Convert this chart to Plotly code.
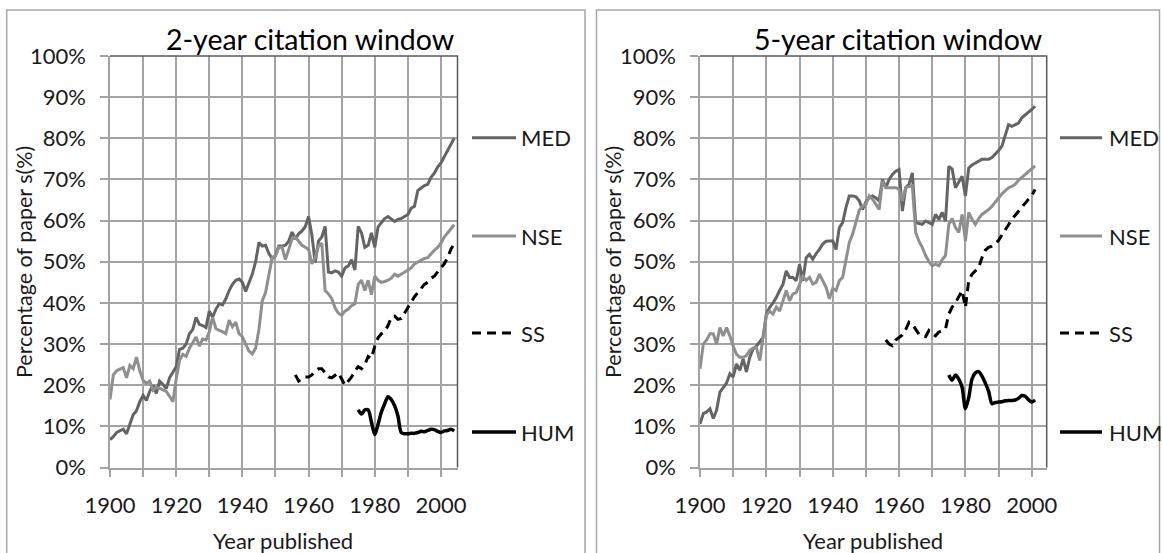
import plotly.graph_objects as go

# ---------------- data ----------------
years_2yr = list(range(1900, 2005))
med_2yr = [6.8, 7.5, 8.5, 9.0, 9.3, 8.2, 10.5, 12.8, 13.8, 16.0,
           17.5, 16.3, 18.5, 20.0, 18.0, 21.0, 20.2, 19.2, 21.8, 23.0,
           24.5, 28.7, 29.0, 30.0, 32.5, 33.5, 36.5, 34.8, 34.5, 34.0,
           38.0, 36.5, 38.5, 39.8, 39.5, 41.0, 43.0, 44.5, 45.5, 45.8,
           45.0, 42.8, 45.0, 47.0, 50.0, 54.7, 53.8, 54.0, 52.0, 50.8,
           51.5, 53.8, 53.8, 54.0, 55.0, 57.2, 55.5, 56.8, 57.5, 58.5,
           61.0, 56.5, 49.8, 55.0, 56.0, 58.6, 47.5, 47.3, 47.8, 47.5,
           46.5, 48.5, 49.0, 50.5, 48.0, 58.6, 57.0, 53.5, 54.0, 57.0,
           53.5, 58.5, 59.5, 60.5, 61.0, 60.5, 59.8, 60.3, 60.5, 61.0,
           61.5, 63.0, 63.5, 67.3, 68.0, 68.5, 68.8, 70.5, 71.5, 73.0,
           74.0, 75.5, 77.0, 78.5, 80.0]
nse_2yr = [16.5, 22.5, 23.5, 24.0, 24.3, 21.8, 24.8, 24.0, 26.8, 23.5,
           21.2, 20.4, 21.0, 18.8, 19.5, 19.2, 18.8, 18.5, 17.3, 16.0,
           21.5, 26.0, 27.5, 27.0, 29.0, 30.5, 31.7, 29.5, 31.2, 31.0,
           33.0, 36.5, 33.8, 33.3, 33.0, 32.5, 35.8, 34.2, 35.3, 32.5,
           31.8, 30.0, 28.3, 27.6, 29.0, 33.5, 40.5, 42.5, 47.0, 51.0,
           51.5, 53.5, 53.5, 50.5, 53.0, 55.5, 56.0, 55.0, 54.0, 53.5,
           53.0, 49.5, 51.0, 53.8, 54.5, 43.0, 42.2, 41.0, 38.8, 37.5,
           37.0, 38.0, 38.5, 39.3, 39.8, 44.5, 45.5, 43.0, 45.5, 42.0,
           46.5, 45.5, 45.0, 45.2, 45.5, 46.0, 47.0, 46.5, 47.0, 47.5,
           48.0, 48.5, 49.5, 50.0, 50.5, 50.8, 51.0, 52.0, 52.8, 53.5,
           54.5, 56.0, 57.0, 58.0, 59.0]
ss_years_2yr = list(range(1956, 2005))
ss_2yr = [22.5, 21.0, 21.5, 22.0, 22.0, 22.5, 23.5, 24.0, 24.0, 23.0,
          22.0, 21.8, 22.5, 23.0, 21.5, 20.0, 21.0, 22.0, 23.5, 24.5,
          24.0, 25.0, 27.0, 26.5, 29.5, 31.5, 32.5, 33.0, 34.5, 36.5,
          36.8, 36.0, 36.2, 37.5, 39.0, 40.0, 41.5, 42.5, 43.5, 44.5,
          45.0, 46.0, 46.5, 47.5, 48.5, 49.5, 51.0, 53.0, 54.5]
hum_years_2yr = list(range(1975, 2005))
hum_2yr = [14.0, 13.0, 14.0, 14.0, 11.0, 8.0, 10.5, 13.5, 15.5, 17.2,
           16.5, 15.0, 12.5, 8.5, 8.2, 8.2, 8.3, 8.3, 8.5, 8.8,
           8.7, 9.0, 9.3, 9.2, 8.8, 8.5, 8.9, 9.0, 9.3, 8.9]

years_5yr = list(range(1900, 2002))
med_5yr = [10.6, 13.1, 13.5, 14.3, 11.9, 13.9, 18.3, 19.5, 20.5, 22.8,
           22.0, 25.2, 23.6, 26.4, 23.2, 26.8, 28.8, 29.5, 30.5, 31.6,
           37.3, 38.9, 40.0, 41.3, 43.0, 44.5, 47.8, 46.2, 46.2, 45.4,
           49.4, 45.4, 51.0, 51.8, 50.6, 52.0, 53.0, 54.3, 55.0, 55.1,
           55.1, 53.0, 58.3, 59.5, 63.2, 66.0, 66.0, 65.8, 64.8, 62.7,
           64.5, 65.6, 66.0, 65.5, 64.8, 70.0, 68.0, 70.0, 71.2, 72.0,
           72.4, 62.3, 68.0, 68.8, 71.6, 59.5, 59.3, 59.1, 59.9, 59.5,
           59.1, 61.5, 60.3, 62.0, 59.9, 73.2, 72.5, 68.0, 69.6, 70.8,
           66.0, 72.8, 73.5, 74.0, 74.5, 74.9, 74.9, 74.9, 75.3, 76.1,
           77.0, 78.1, 80.5, 83.3, 82.9, 83.3, 83.7, 85.0, 85.6, 86.2,
           87.0, 87.8]
nse_5yr = [24.0, 30.0, 31.0, 32.5, 32.5, 30.0, 34.0, 32.0, 34.0, 32.0,
           29.5, 27.5, 26.8, 26.8, 27.2, 28.5, 29.0, 29.2, 26.0, 31.5,
           37.0, 38.0, 37.3, 39.0, 38.0, 40.5, 43.0, 40.5, 42.2, 42.5,
           44.5, 46.5, 45.5, 46.2, 44.6, 45.0, 47.0, 45.4, 43.8, 41.0,
           43.5, 43.0, 45.4, 46.2, 50.2, 54.7, 56.7, 59.9, 62.5, 63.5,
           64.0, 66.0, 65.2, 64.0, 62.7, 69.6, 68.0, 68.0, 68.0, 68.0,
           67.6, 64.8, 68.0, 68.2, 68.5, 57.1, 55.0, 53.5, 51.5, 50.0,
           49.0, 49.4, 49.0, 50.5, 51.5, 59.1, 60.5, 58.3, 57.1, 61.5,
           55.0, 62.0, 60.3, 59.1, 60.5, 61.5, 62.0, 62.7, 63.5, 64.4,
           65.5, 66.5, 67.2, 68.0, 68.3, 68.8, 69.8, 70.5, 71.2, 72.0,
           72.5, 73.3]
ss_years_5yr = list(range(1956, 2002))
ss_5yr = [31.0, 30.0, 29.6, 31.0, 31.6, 32.2, 33.5, 35.3, 34.8, 33.5,
          32.4, 32.0, 31.8, 33.3, 32.5, 32.0, 32.9, 33.2, 33.7, 37.3,
          39.0, 40.0, 41.5, 43.0, 38.9, 45.4, 47.0, 47.8, 48.6, 51.0,
          52.8, 53.5, 53.8, 54.3, 55.2, 56.5, 57.9, 59.0, 60.3, 61.3,
          62.3, 63.3, 64.4, 65.2, 66.0, 67.6]
hum_years_5yr = list(range(1975, 2002))
hum_5yr = [22.5, 21.2, 22.5, 21.5, 19.5, 14.3, 17.0, 21.5, 23.0, 23.3,
           22.2, 20.5, 18.5, 15.5, 15.8, 15.9, 16.0, 16.2, 16.3, 16.3,
           16.4, 16.8, 17.5, 17.3, 16.5, 15.9, 16.4]

series_names = ["MED", "NSE", "SS", "HUM"]
panel_titles = ["2-year citation window", "5-year citation window"]
y_title = "Percentage of paper s(%)"
x_title = "Year published"

# ---------------- styling ----------------
W, H = 1162, 553
FONT = "Lato"
colors = {"MED": "#646464", "NSE": "#8f8f8f", "SS": "#000000", "HUM": "#000000"}
dashes = {"MED": "solid", "NSE": "solid", "SS": "9px,6px", "HUM": "solid"}
widths = {"MED": 3, "NSE": 3, "SS": 3, "HUM": 3.5}
GRID = "#a3a3a3"

def px(x):
    return x / W

def py(y):
    return 1 - y / H

fig = go.Figure()

panels = [
    dict(xa="x", ya="y", data={"MED": (years_2yr, med_2yr), "NSE": (years_2yr, nse_2yr),
                              "SS": (ss_years_2yr, ss_2yr), "HUM": (hum_years_2yr, hum_2yr)}),
    dict(xa="x2", ya="y2", data={"MED": (years_5yr, med_5yr), "NSE": (years_5yr, nse_5yr),
                                "SS": (ss_years_5yr, ss_5yr), "HUM": (hum_years_5yr, hum_5yr)}),
]

for p in panels:
    for name in series_names:
        xs, ys = p["data"][name]
        fig.add_trace(go.Scatter(
            x=xs, y=ys, mode="lines", name=name, showlegend=False,
            xaxis=p["xa"], yaxis=p["ya"],
            line=dict(color=colors[name], width=widths[name], dash=dashes[name],
                      shape="spline" if name == "HUM" else "linear",
                      smoothing=0.8 if name == "HUM" else None),
        ))

ydom = [py(467.5), py(56)]
plot_x = [(110, 457.5, [1900, 2005]), (700, 1046.7, [1900, 2004.5])]

axis_common = dict(
    showline=True, linecolor=GRID, linewidth=1.5,
    showgrid=True, gridcolor=GRID, gridwidth=1.5,
    ticks="outside", ticklen=8, tickcolor=GRID, tickwidth=1.5,
    tickfont=dict(family=FONT, size=22, color="#1a1a1a"),
    zeroline=False, fixedrange=True, automargin=False,
)

for i, (x0, x1, rng) in enumerate(plot_x):
    sx = "" if i == 0 else "2"
    fig.layout["xaxis" + sx] = dict(
        axis_common, domain=[px(x0), px(x1)], range=rng, anchor="y" + sx,
        tick0=1900, dtick=20, ticklabelstandoff=9,
        minor=dict(dtick=10, tick0=1900, showgrid=True, gridcolor=GRID, gridwidth=1.5,
                   ticks="outside", ticklen=8, tickcolor=GRID, tickwidth=1.5),
    )
    fig.layout["yaxis" + sx] = dict(
        axis_common, domain=ydom, range=[0, 100], anchor="x" + sx,
        tick0=0, dtick=10, ticksuffix="%", ticklabelstandoff=10,
    )

shapes = []
annotations = []

# outer chart frames
for (fx0, fx1) in [(6.7, 585), (596.5, 1159.5)]:
    shapes.append(dict(type="rect", xref="paper", yref="paper",
                       x0=px(fx0), x1=px(fx1), y0=-0.05, y1=py(10),
                       line=dict(color="#a6a6a6", width=1.5)))

# plot area top/right border
for i, (x0, x1, rng) in enumerate(plot_x):
    shapes.append(dict(type="path", xref="paper", yref="paper",
                       path=f"M {px(x0)},{py(56)} L {px(x1)},{py(56)} L {px(x1)},{py(467.5)}",
                       line=dict(color="#5a5a5a", width=1.5)))

# legends
legend_y = [137.7, 236, 333, 432]
legend_x = [(472, 516, 519), (1060, 1102, 1107)]
for (lx0, lx1, tx) in legend_x:
    for name, ly in zip(series_names, legend_y):
        shapes.append(dict(type="line", xref="paper", yref="paper",
                           x0=px(lx0), x1=px(lx1), y0=py(ly), y1=py(ly),
                           line=dict(color=colors[name], width=3.5 if name == "HUM" else 3,
                                     dash=dashes[name])))
        annotations.append(dict(xref="paper", yref="paper", x=px(tx), y=py(ly),
                                xanchor="left", yanchor="middle", showarrow=False,
                                text=name, font=dict(family=FONT, size=22, color="#1a1a1a")))

# titles
for cx, t in zip([310, 898], panel_titles):
    annotations.append(dict(xref="paper", yref="paper", x=px(cx), y=py(39),
                            xanchor="center", yanchor="middle", showarrow=False,
                            text=t, font=dict(family=FONT, size=28.5, color="#000000")))

# axis titles
for cx in [283, 873]:
    annotations.append(dict(xref="paper", yref="paper", x=px(cx), y=py(540),
                            xanchor="center", yanchor="middle", showarrow=False,
                            text=x_title, font=dict(family=FONT, size=22, color="#1a1a1a")))
for cx in [24, 613]:
    annotations.append(dict(xref="paper", yref="paper", x=px(cx), y=py(262),
                            xanchor="center", yanchor="middle", showarrow=False, textangle=-90,
                            text=y_title, font=dict(family=FONT, size=21.5, color="#1a1a1a")))

fig.update_layout(
    width=W, height=H, autosize=False,
    margin=dict(l=0, r=0, t=0, b=0, pad=0),
    paper_bgcolor="white", plot_bgcolor="white",
    shapes=shapes, annotations=annotations,
    showlegend=False,
)

fig.write_html(
    "out.html",
    config={"displayModeBar": False},
    post_script="document.body.style.margin='0';document.body.style.overflow='hidden';",
)
